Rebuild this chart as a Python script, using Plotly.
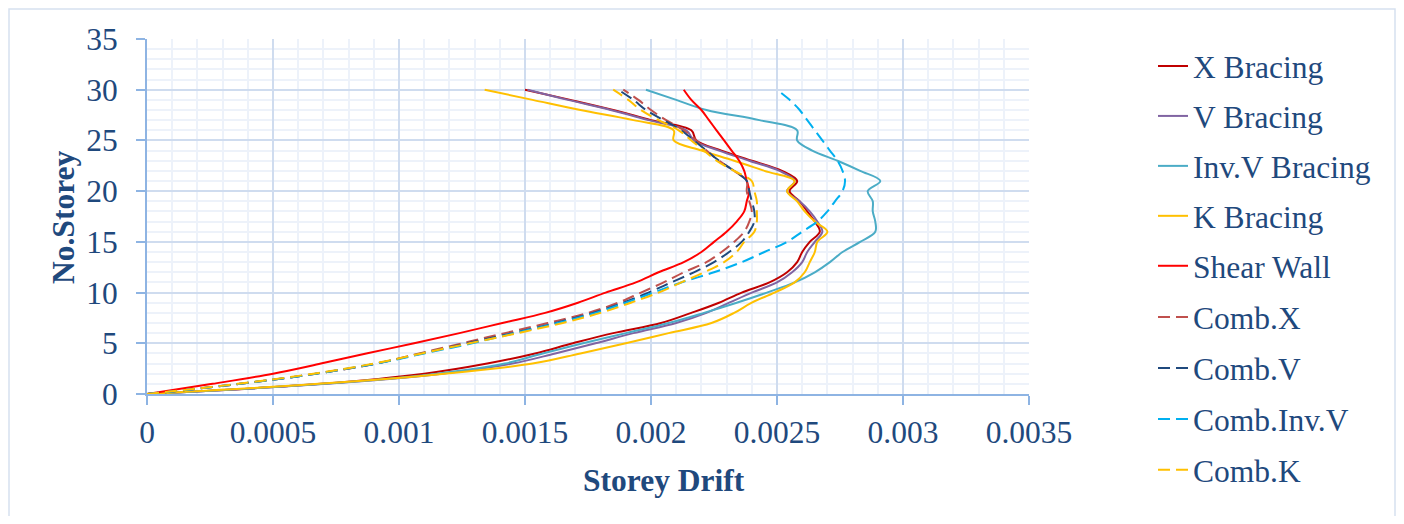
import plotly.graph_objects as go

storeys = list(range(0, 31))

x_bracing = [0, 0.00069, 0.00110, 0.00135, 0.00154, 0.00169, 0.00185, 0.00204, 0.00216, 0.00227, 0.00236,
             0.00247, 0.00254, 0.00258, 0.00260, 0.00263, 0.00267, 0.00265, 0.00262, 0.00259, 0.00255,
             0.00258, 0.00252, 0.00240, 0.00228, 0.00218, 0.00216, 0.00200, 0.00185, 0.00168, 0.00150]
v_bracing = [0, 0.00071, 0.00117, 0.00145, 0.00162, 0.00178, 0.00193, 0.00210, 0.00222, 0.00231, 0.00240,
             0.00250, 0.00256, 0.00260, 0.00262, 0.00265, 0.00268, 0.00266, 0.00263, 0.00259, 0.00254,
             0.00257, 0.00251, 0.00239, 0.00227, 0.00217, 0.00214, 0.00199, 0.00184, 0.00167, 0.00151]
invv_bracing = [0, 0.00070, 0.00115, 0.00142, 0.00157, 0.00173, 0.00190, 0.00207, 0.00221, 0.00234, 0.00246,
                0.00257, 0.00265, 0.00271, 0.00276, 0.00283, 0.00289, 0.00289, 0.00288, 0.00288, 0.00286,
                0.00291, 0.00283, 0.00274, 0.00264, 0.00258, 0.00258, 0.00243, 0.00222, 0.00210, 0.00198]
k_bracing = [0, 0.00068, 0.00118, 0.00153, 0.00172, 0.00190, 0.00207, 0.00224, 0.00233, 0.00240, 0.00249,
             0.00257, 0.00261, 0.00263, 0.00265, 0.00266, 0.00270, 0.00265, 0.00261, 0.00258, 0.00254,
             0.00257, 0.00245, 0.00233, 0.00220, 0.00209, 0.00209, 0.00193, 0.00172, 0.00153, 0.00134]
shear_wall = [0, 0.00026, 0.00050, 0.00069, 0.00087, 0.00106, 0.00124, 0.00141, 0.00158, 0.00171, 0.00182,
              0.00194, 0.00203, 0.00213, 0.00220, 0.00225, 0.00230, 0.00234, 0.00237, 0.00238, 0.00239,
              0.00238, 0.00237, 0.00235, 0.00232, 0.00229, 0.00226, 0.00223, 0.00220, 0.00216, 0.00213]
comb_x = [0, 0.00037, 0.00067, 0.00091, 0.00108, 0.00125, 0.00142, 0.00159, 0.00175, 0.00187, 0.00196,
          0.00205, 0.00213, 0.00222, 0.00228, 0.00233, 0.00237, 0.00239, 0.00240, 0.00239, 0.00238,
          0.00238, 0.00233, 0.00227, 0.00222, 0.00218, 0.00213, 0.00206, 0.00200, 0.00195, 0.00189]
comb_v = [0, 0.00037, 0.00067, 0.00091, 0.00109, 0.00127, 0.00145, 0.00162, 0.00177, 0.00189, 0.00199,
          0.00208, 0.00217, 0.00225, 0.00231, 0.00236, 0.00239, 0.00241, 0.00241, 0.00240, 0.00239,
          0.00238, 0.00233, 0.00227, 0.00222, 0.00217, 0.00212, 0.00205, 0.00198, 0.00193, 0.00187]
comb_invv = [0, 0.00037, 0.00067, 0.00091, 0.00110, 0.00129, 0.00146, 0.00163, 0.00178, 0.00190, 0.00201,
             0.00212, 0.00225, 0.00236, 0.00245, 0.00254, 0.00260, 0.00266, 0.00270, 0.00273, 0.00276,
             0.00277, 0.00276, 0.00274, 0.00271, 0.00268, 0.00265, 0.00262, 0.00259, 0.00255, 0.00250]
comb_k = [0, 0.00036, 0.00066, 0.00090, 0.00109, 0.00128, 0.00147, 0.00165, 0.00180, 0.00192, 0.00203,
          0.00212, 0.00221, 0.00229, 0.00234, 0.00237, 0.00241, 0.00242, 0.00242, 0.00242, 0.00241,
          0.00240, 0.00233, 0.00226, 0.00221, 0.00216, 0.00211, 0.00203, 0.00196, 0.00191, 0.00185]

DASH = "12px,6px"
series = [
    ("X Bracing", x_bracing, "#C00000", "solid", "legend"),
    ("V Bracing", v_bracing, "#8064A2", "solid", "legend"),
    ("Inv.V Bracing", invv_bracing, "#4BACC6", "solid", "legend"),
    ("K Bracing", k_bracing, "#FFC000", "solid", "legend"),
    ("Shear Wall", shear_wall, "#FF0000", "solid", "legend"),
    ("Comb.X", comb_x, "#C0504D", DASH, "legend2"),
    ("Comb.V", comb_v, "#1F497D", DASH, "legend2"),
    ("Comb.Inv.V", comb_invv, "#00B0F0", DASH, "legend2"),
    ("Comb.K", comb_k, "#FFC000", DASH, "legend2"),
]

TEXT = "#1F497D"
FONT = "Liberation Serif"
FS = 31.5
AXIS = "#8EB4E3"
GRID = "#CFDCEF"
MINOR = "#EDF2FA"

# page body has an 8px margin; work in screen pixels and convert
OFF = 8
W, H = 1404 - 2 * OFF, 524 - 2 * OFF
L, R, T, B = 147 - OFF, 1029 - OFF, 39 - OFF, 394 - OFF
pw, ph = R - L, B - T


def px(xs):
    return (xs - OFF - L) / pw


def py(ys):
    return (B - (ys - OFF)) / ph


fig = go.Figure()
for name, vals, color, dash, leg in series:
    fig.add_trace(go.Scatter(
        x=vals, y=storeys, name=name, mode="lines", legendgroup=name, legend=leg,
        line=dict(color=color, width=2, dash=dash, shape="spline", smoothing=1.0),
    ))

legend_common = dict(
    xanchor="left", yanchor="top",
    font=dict(family=FONT, size=FS, color=TEXT),
    bgcolor="rgba(0,0,0,0)", traceorder="grouped",
)

fig.update_layout(
    width=W, height=H,
    margin=dict(l=L, r=W - R, t=T, b=H - B),
    paper_bgcolor="white", plot_bgcolor="white",
    font=dict(family=FONT, size=FS, color=TEXT),
    showlegend=True,
    legend=dict(x=px(1153), y=1.0, tracegroupgap=6, **legend_common),
    legend2=dict(x=px(1153), y=py(290), tracegroupgap=7, **legend_common),
    xaxis=dict(
        range=[0, 0.0035], dtick=0.0005, tick0=0,
        showline=True, linecolor=AXIS, linewidth=2,
        ticks="outside", ticklen=9, tickcolor=AXIS, tickwidth=1.5,
        showgrid=True, gridcolor=GRID, gridwidth=1.5, zeroline=False,
        minor=dict(dtick=0.0001, showgrid=True, gridcolor=MINOR, gridwidth=1.5, ticks=""),
        tickfont=dict(family=FONT, size=FS, color=TEXT),
        tickformat="~g", ticklabelstandoff=0,
    ),
    yaxis=dict(
        range=[0, 35], dtick=5, tick0=0,
        showline=True, linecolor=AXIS, linewidth=2,
        ticks="outside", ticklen=9, tickcolor=AXIS, tickwidth=1.5,
        showgrid=True, gridcolor=GRID, gridwidth=1.5, zeroline=False,
        minor=dict(dtick=1, showgrid=True, gridcolor=MINOR, gridwidth=1.5, ticks=""),
        tickfont=dict(family=FONT, size=FS, color=TEXT),
        ticklabelstandoff=12,
    ),
    annotations=[
        dict(text="<b>Storey Drift</b>", xref="paper", yref="paper",
             x=px(664), y=py(480), xanchor="center", yanchor="middle",
             showarrow=False, font=dict(family=FONT, size=FS, color=TEXT)),
        dict(text="<b>No.Storey</b>", xref="paper", yref="paper", textangle=-90,
             x=px(63), y=py(217), xanchor="center", yanchor="middle",
             showarrow=False, font=dict(family=FONT, size=FS, color=TEXT)),
    ],
    shapes=[
        dict(type="rect", xref="paper", yref="paper",
             x0=px(9), x1=px(1395), y0=py(560), y1=py(9),
             line=dict(color="#D6E1F0", width=1.5), fillcolor="rgba(0,0,0,0)", layer="below"),
    ],
)

fig.write_html("out.html")
